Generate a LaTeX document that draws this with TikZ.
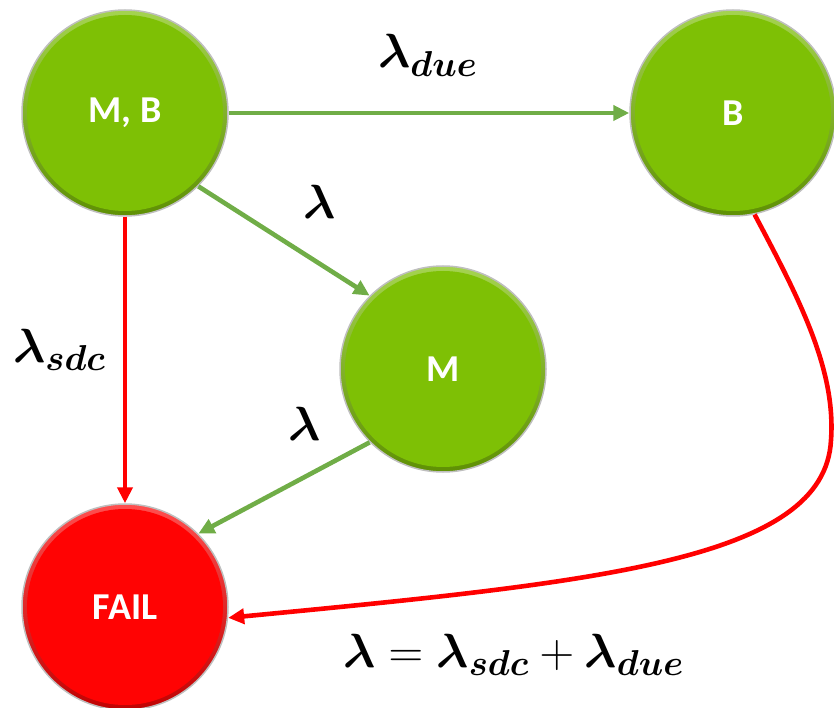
\RequirePackage{fix-cm}
\documentclass[tikz,border=0pt]{standalone}
\usepackage{amsmath,amssymb}
\usepackage{fontspec}
\newfontfamily\statefont{Carlito}
\usetikzlibrary{arrows.meta}
\DeclareMathSizes{48}{48}{36}{30}

\definecolor{stategreen}{RGB}{126,192,5}
\definecolor{statered}{RGB}{255,3,3}
\definecolor{edgegreen}{RGB}{112,173,71}
\definecolor{edgered}{RGB}{255,0,0}

\tikzset{
  state/.style={circle, inner sep=0pt, minimum size=206pt, draw=gray!50, line width=1.5pt,
    top color=#1!70!white, bottom color=#1!75!black,
    path picture={\fill[#1] (path picture bounding box.center) circle (98pt);},
    text=white, font=\statefont\bfseries\fontsize{38}{40}\selectfont},
  trans/.style={line width=4.6pt, -{Triangle[length=16pt,width=15pt]}},
  rate/.style={inner sep=0pt, anchor=base west, font=\fontsize{48}{50}\selectfont}
}

\begin{document}
\begin{tikzpicture}[x=1pt,y=-1pt]
  \useasboundingbox (0,0) rectangle (834,708);
  % Zustaende
  \node[state=stategreen] (mb) at (125,113) {M, B};
  \node[state=stategreen] (b) at (733,113) {B};
  \node[state=stategreen] (m) at (443,369) {M};
  \node[state=statered] (fail) at (125,607) {FAIL};
  % Uebergaenge
  \draw[trans,edgegreen] (mb.east) -- (b.west);
  \draw[trans,edgegreen] (mb.-45) -- (m.135);
  \draw[trans,edgegreen] (m.-135) -- (fail.45);
  \draw[trans,edgered] (mb.south) -- (fail.north);
  \draw[trans,edgered] (b.-78) .. controls (800,300) and (836,370) .. (831,440)
    .. controls (825,560) and (600,582) .. (fail.-6);
  % Raten
  \node[rate] (ldue) at (378,68) {$\boldsymbol{\lambda}_{\boldsymbol{due}}$};
  \node[rate] (lmb) at (303,219) {$\boldsymbol{\lambda}$};
  \node[rate] (lsdc) at (13,362) {$\boldsymbol{\lambda}_{\boldsymbol{sdc}}$};
  \node[rate] (lm) at (288,440) {$\boldsymbol{\lambda}$};
  \node[rate] (lsum) at (343,667) {$\boldsymbol{\lambda}=\boldsymbol{\lambda}_{\boldsymbol{sdc}}+\boldsymbol{\lambda}_{\boldsymbol{due}}$};
\end{tikzpicture}
\end{document}
